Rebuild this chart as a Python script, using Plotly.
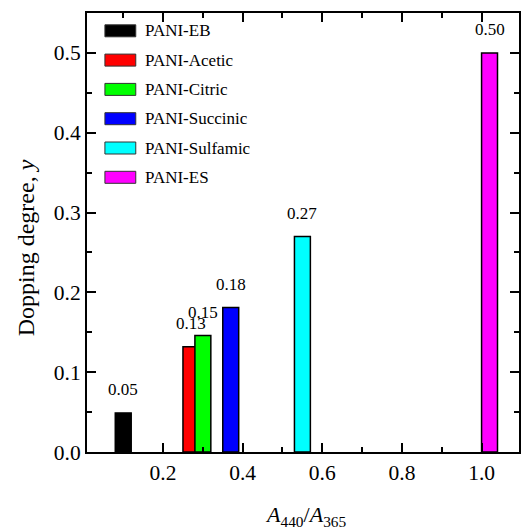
import plotly.graph_objects as go

# ---- data ----
names = ["PANI-EB", "PANI-Acetic", "PANI-Citric", "PANI-Succinic", "PANI-Sulfamic", "PANI-ES"]
ratio = [0.10, 0.27, 0.30, 0.37, 0.55, 1.02]          # A440/A365
doping = [0.049, 0.132, 0.146, 0.181, 0.270, 0.500]   # doping degree y
colors = ["#000000", "#FF0000", "#00FF00", "#0000FF", "#00FFFF", "#FF00FF"]
x_ticks = [0.2, 0.4, 0.6, 0.8, 1.0]
y_ticks = [0.0, 0.1, 0.2, 0.3, 0.4, 0.5]

W, H = 522, 530
L, R, T, B = 87, 1, 13, 78
PW, PH = W - L - R, H - T - B
FONT = "Liberation Serif, Times New Roman, serif"

def px(xp):
    return (xp - L) / PW

def py(yp):
    return (H - B - yp) / PH

fig = go.Figure()
for n, xv, yv, c in zip(names, ratio, doping, colors):
    fig.add_trace(go.Bar(
        x=[xv], y=[yv], name=n, width=0.04,
        marker=dict(color=c, line=dict(color="black", width=1.5)),
        showlegend=False, hoverinfo="x+y+name",
    ))

annotations = []
for xv, yv in zip(ratio, doping):
    annotations.append(dict(
        x=xv, y=yv, xref="x", yref="y", text=f"{yv:.2f}", showarrow=False,
        yshift=23, xanchor="center", yanchor="middle",
        font=dict(family=FONT, size=17, color="black"),
    ))

# manual legend
shapes = []
for i, (n, c) in enumerate(zip(names, colors)):
    cy = 30.8 + i * 29.3
    shapes.append(dict(
        type="rect", xref="paper", yref="paper",
        x0=px(105), x1=px(136), y0=py(cy + 6), y1=py(cy - 6),
        fillcolor=c, line=dict(color="#333333", width=1),
    ))
    annotations.append(dict(
        x=px(143), y=py(cy), xref="paper", yref="paper", text=n, showarrow=False,
        xanchor="left", yanchor="middle",
        font=dict(family=FONT, size=17, color="black"),
    ))

# axis titles
annotations.append(dict(
    x=px(26), y=py(248), xref="paper", yref="paper",
    text="Dopping degree, <i>y</i>", textangle=-90, showarrow=False,
    xanchor="center", yanchor="middle",
    font=dict(family=FONT, size=24, color="black"),
))
annotations.append(dict(
    x=px(307), y=py(516), xref="paper", yref="paper",
    text="<i>A</i><sub>440</sub>/<i>A</i><sub>365</sub>", showarrow=False,
    xanchor="center", yanchor="middle",
    font=dict(family=FONT, size=22, color="black"),
))

axis_common = dict(
    showline=True, linecolor="black", linewidth=2, mirror="ticks",
    ticks="inside", ticklen=9, tickwidth=1.5, tickcolor="black",
    showgrid=False, zeroline=False,
    tickfont=dict(family=FONT, size=21.5, color="black"),
)

fig.update_layout(
    width=W, height=H,
    margin=dict(l=L, r=R, t=T, b=B, pad=0),
    paper_bgcolor="white", plot_bgcolor="white",
    barmode="overlay",
    xaxis=dict(range=[0.009, 1.094], tickvals=x_ticks,
               ticktext=[f"{v:.1f}" for v in x_ticks],
               minor=dict(dtick=0.1, tick0=0, ticks="inside", ticklen=5,
                          tickwidth=1.5, tickcolor="black"),
               **axis_common),
    yaxis=dict(range=[0, 0.55], tickvals=y_ticks,
               ticktext=[f"{v:.1f}" for v in y_ticks],
               minor=dict(dtick=0.05, tick0=0, ticks="inside", ticklen=5,
                          tickwidth=1.5, tickcolor="black"),
               **axis_common),
    shapes=shapes,
    annotations=annotations,
    showlegend=False,
)

fig.write_html("out.html",
               config={"displayModeBar": False},
               post_script="document.body.style.margin='0';document.body.style.overflow='hidden';")
